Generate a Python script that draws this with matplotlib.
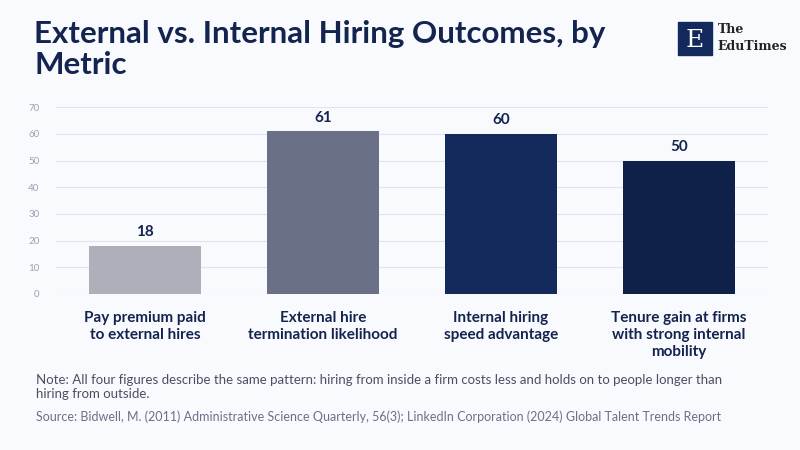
import matplotlib.pyplot as plt
from matplotlib.patches import Rectangle

categories = ['Pay premium paid\nto external hires', 'External hire\ntermination likelihood',
              'Internal hiring\nspeed advantage', 'Tenure gain at firms\nwith strong internal\nmobility']
values = [18, 61, 60, 50]
colors = ['#adb0b8', '#6b7089', '#13295b', '#0f2149']
yticks = [0, 10, 20, 30, 40, 50, 60, 70]

bg = '#f9fafe'
navy = '#13244f'
plt.rcParams['font.family'] = ['Lato', 'DejaVu Sans']

fig = plt.figure(figsize=(8, 4.5), dpi=100, facecolor=bg)
ax = fig.add_axes([0.07, 0.3467, 0.89, 0.415], facecolor=bg)

x = range(len(categories))
ax.bar(x, values, width=0.63, color=colors, zorder=2)
for i, v in zip(x, values):
    ax.text(i, v + 2.5, str(v), ha='center', va='bottom', fontsize=11, fontweight='bold', color=navy)

ax.set_xlim(-0.5, 3.5)
ax.set_ylim(0, 70)
ax.set_yticks(yticks)
ax.set_xticks(list(x))
ax.set_xticklabels(categories, fontsize=11, fontweight='bold', color=navy, linespacing=1.3)
ax.tick_params(axis='y', labelsize=7, colors='#9aa0b4', length=0, pad=12)
ax.tick_params(axis='x', length=0, pad=12)
ax.grid(axis='y', color='#e1e4ec', linewidth=0.8, zorder=0)
for s in ax.spines.values():
    s.set_visible(False)

fig.text(0.043, 0.955, 'External vs. Internal Hiring Outcomes, by\nMetric', fontsize=22.5, fontweight='bold',
         color=navy, va='top', linespacing=1.1)

# logo
fig.patches.append(Rectangle((0.847, 0.877), 0.043, 0.075, transform=fig.transFigure, color='#13295b'))
fig.text(0.8685, 0.911, 'E', fontsize=18, family='DejaVu Serif', color='white', ha='center', va='center')
fig.text(0.897, 0.935, 'The', fontsize=9, family='DejaVu Serif', fontweight='bold', color='#222222', va='center')
fig.text(0.897, 0.897, 'EduTimes', fontsize=9, family='DejaVu Serif', fontweight='bold', color='#222222', va='center')

fig.text(0.045, 0.168, 'Note: All four figures describe the same pattern: hiring from inside a firm costs less and holds on to people longer than\nhiring from outside.',
         fontsize=9.5, color='#4a5063', va='top', linespacing=1.2)
fig.text(0.045, 0.088, 'Source: Bidwell, M. (2011) Administrative Science Quarterly, 56(3); LinkedIn Corporation (2024) Global Talent Trends Report',
         fontsize=9, color='#6b7089', va='top')

fig.savefig('out.png', facecolor=bg)
